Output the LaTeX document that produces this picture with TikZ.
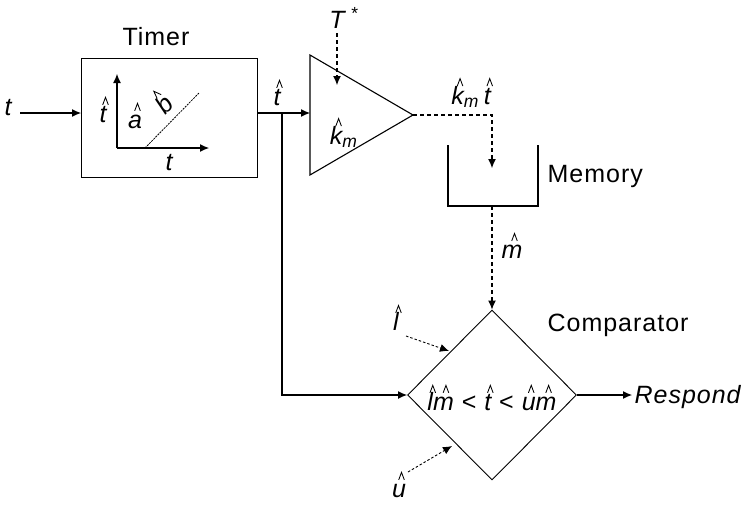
\documentclass[tikz,border=0pt]{standalone}
\usepackage{fontspec}
\setmainfont[LetterSpace=4]{Liberation Sans}
\usetikzlibrary{shapes.geometric,arrows.meta}
\newcommand\hatdraw{\tikz[x=1pt,y=1pt,line width=0.85pt,baseline=0pt]{\draw[solid] (0,0)--(2.8,7.5)--(5.6,0);}}
\newcommand\hv[1]{\leavevmode\setbox0=\hbox{\itshape #1}\rlap{\makebox[\wd0][c]{\hspace{5pt}\raisebox{18pt}{\hatdraw}}}\box0\relax}
\newcommand\kmh{\hv{k}\textsubscript{\textit{m}}}
\begin{document}
\begin{tikzpicture}[x=1pt,y=-1pt,
  font=\fontsize{25}{29}\selectfont,
  line width=1.1pt,
  arr/.style={-{Latex[length=9pt,width=8pt]}},
  dsh/.style={dash pattern=on 4pt off 3pt},
  lbl/.style={inner sep=0pt}]
\useasboundingbox (0,0) rectangle (753,504);
% Timer box
\node[draw, minimum width=176pt, minimum height=119pt, anchor=north west, inner sep=0pt] (timer) at (81,58) {};
\node[lbl] (timerlbl) at (156,37) {Timer};
\coordinate (tin) at (20,113);
\node[lbl] (tlbl) at (9,108) {\textit{t}};
\draw[arr] (tin) -- (tin -| timer.west);
% inner graph
\coordinate (org) at (117,148);
\coordinate (yax) at (117,74);
\coordinate (xax) at (209,148);
\coordinate (sl0) at (145,148);
\coordinate (sl1) at (199,93);
\draw[arr] (org) -- (yax);
\draw[arr] (org) -- (xax);
\draw[line width=0.8pt, dash pattern=on 2pt off 1pt] (sl0) -- (sl1);
\node[lbl] (ith) at (103,110) {\hv{t}};
\node[lbl] (iah) at (135,116) {\hv{a}};
\node[lbl, rotate=45] (ibh) at (161,102) {\hv{b}};
\node[lbl] (itl) at (170,163) {\textit{t}};
% triangle gain
\coordinate (trA) at (310,55);
\coordinate (trB) at (310,175);
\coordinate (trC) at (413,115);
\draw (trA) -- (trC) -- (trB) -- cycle;
\node[lbl] (kmlbl) at (344,133) {\kmh};
\coordinate (split) at (282,113);
\draw[arr] (tin -| timer.east) -- (split) -- (tin -| trA);
\node[lbl] (thlbl) at (277,93) {\hv{t}};
% T*
\node[lbl] (tstar) at (344,18) {\textit{T}\,\textsuperscript{*}};
\coordinate (tsin) at (337,33);
\coordinate (tsend) at (337,85);
\draw[arr, dsh] (tsin) -- (tsend);
% memory
\coordinate (mA) at (448,145);
\coordinate (mB) at (448,206);
\coordinate (mC) at (538,206);
\coordinate (mD) at (538,145);
\draw (mA) -- (mB) -- (mC) -- (mD);
\node[lbl, anchor=west] (memlbl) at (547,176) {Memory};
\coordinate (kmcorner) at (492,115);
\coordinate (memin) at (492,168);
\draw[arr, dsh] (trC) -- (kmcorner) -- (memin);
\node[lbl] (kmt) at (471,93) {\kmh\,\hv{t}};
\coordinate (memout) at (492,206);
% comparator
\node[draw, diamond, minimum width=169pt, minimum height=170pt, inner sep=0pt, line width=0.9pt] (cmp) at (492,395) {};
\node[lbl] (cmptxt) at (492,398) {\hv{l}\hv{m} < \hv{t} < \hv{u}\hv{m}};
\node[lbl, anchor=west] (cmplbl) at (547,325) {Comparator};
\draw[arr, dsh] (memout) -- (cmp.north);
\node[lbl] (mhl) at (512,246) {\hv{m}};
\draw[arr] (split) |- (cmp.west);
\node[lbl] (lhl) at (396,318) {\hv{l}};
\coordinate (lst) at (406,336);
\coordinate (lend) at (449,351);
\draw[arr, dash pattern=on 2.5pt off 2pt, line width=0.9pt] (lst) -- (lend);
\node[lbl] (uhl) at (399,485) {\hv{u}};
\coordinate (ust) at (408,472);
\coordinate (uend) at (452,446);
\draw[arr, dash pattern=on 2.5pt off 2pt, line width=0.9pt] (ust) -- (uend);
\coordinate (resp) at (632,395);
\draw[arr] (cmp.east) -- (resp);
\node[lbl, anchor=west] (resplbl) at (634,397) {\textit{Respond}};
\end{tikzpicture}
\end{document}
